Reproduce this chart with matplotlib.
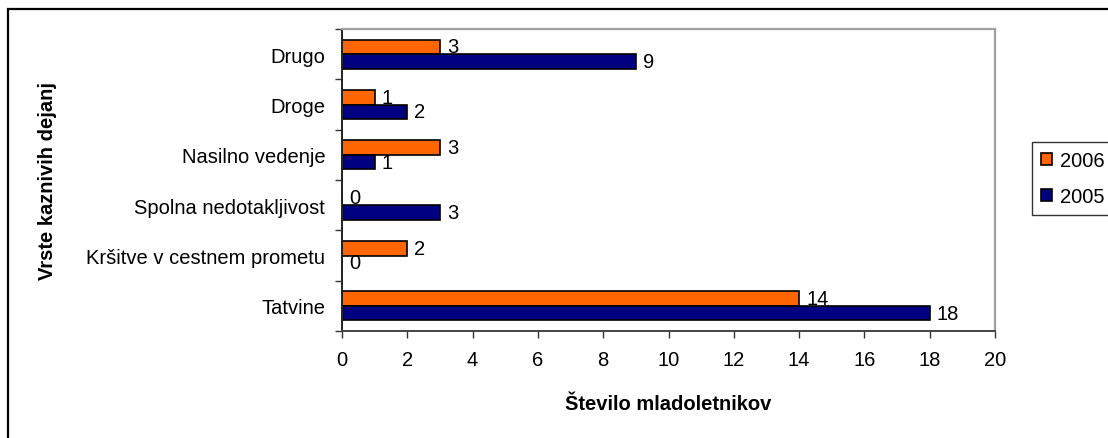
import numpy as np
import matplotlib
matplotlib.use('Agg')
import matplotlib.pyplot as plt
from matplotlib.patches import Rectangle
from matplotlib.ticker import MultipleLocator, FixedLocator

plt.rcParams['font.family'] = ['Liberation Sans', 'DejaVu Sans']

categories = ['Tatvine', 'Kršitve v cestnem prometu', 'Spolna nedotakljivost',
              'Nasilno vedenje', 'Droge', 'Drugo']
vals_2006 = [14, 2, 0, 3, 1, 3]
vals_2005 = [18, 0, 3, 1, 2, 9]
series_names = ['2006', '2005']

W, H = 1108, 439
FS = 14.5
fig = plt.figure(figsize=(W / 100, H / 100), dpi=100)

# outer chart frame (cut off at right and bottom like the original)
fig.patches.append(Rectangle((8 / W, -0.1), 1.2, 1 - 10 / H + 0.1,
                             transform=fig.transFigure, fill=False,
                             edgecolor='black', linewidth=1.6))

ax = fig.add_axes([342 / W, 1 - 332 / H, (995 - 342) / W, (332 - 30) / H])

y = np.arange(len(categories))
h = 0.29
ax.barh(y + h / 2, vals_2006, height=h, color='#FF6600', edgecolor='black',
        linewidth=1.2, label=series_names[0])
ax.barh(y - h / 2, vals_2005, height=h, color='#000080', edgecolor='black',
        linewidth=1.2, label=series_names[1])

for yi, v in zip(y + h / 2, vals_2006):
    ax.annotate(str(v), (v, yi), xytext=(5, 0), textcoords='offset points',
                va='center', ha='left', fontsize=FS)
for yi, v in zip(y - h / 2, vals_2005):
    ax.annotate(str(v), (v, yi), xytext=(5, 0), textcoords='offset points',
                va='center', ha='left', fontsize=FS)

ax.set_xlim(0, 20)
ax.set_ylim(-0.5, len(categories) - 0.5)
ax.xaxis.set_major_locator(MultipleLocator(2))
ax.tick_params(axis='x', direction='out', length=5, width=1, color='#333333',
               labelsize=FS, pad=9)

# category separators as ticks, names on minor ticks
ax.yaxis.set_major_locator(FixedLocator(np.arange(-0.5, len(categories), 1)))
ax.yaxis.set_minor_locator(FixedLocator(y))
ax.set_yticklabels([], minor=False)
ax.set_yticklabels(categories, minor=True)
ax.tick_params(axis='y', which='major', direction='out', length=5, width=1,
               color='#333333')
ax.tick_params(axis='y', which='minor', length=0, labelsize=FS, pad=12)

for side in ['top', 'right']:
    ax.spines[side].set_color('#A0A0A0')
    ax.spines[side].set_linewidth(1.6)
ax.spines['left'].set_color('#222222')
ax.spines['left'].set_linewidth(1.4)
ax.spines['bottom'].set_color('#444444')
ax.spines['bottom'].set_linewidth(1.4)

fig.text(48 / W, 1 - 181 / H, 'Vrste kaznivih dejanj', rotation=90,
         ha='center', va='center', fontsize=FS, fontweight='bold')
fig.text(668 / W, 1 - 405 / H, 'Število mladoletnikov', ha='center',
         va='center', fontsize=FS, fontweight='bold')

leg = fig.legend(loc='upper left', bbox_to_anchor=(1032 / W, 1 - 143 / H),
                 fontsize=FS, frameon=True, fancybox=False, borderaxespad=0,
                 handlelength=0.55, handleheight=0.55, handletextpad=0.4,
                 borderpad=0.45, labelspacing=0.85)
leg.get_frame().set_edgecolor('black')
leg.get_frame().set_linewidth(1.0)

fig.savefig('out.png', dpi=100)
